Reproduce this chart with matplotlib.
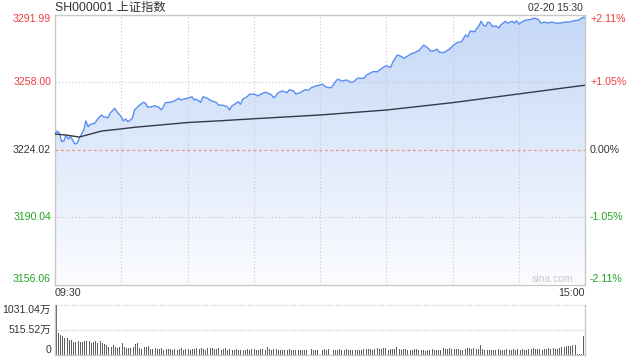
import numpy as np
import matplotlib
matplotlib.use('Agg')
import matplotlib.pyplot as plt
from matplotlib.colors import LinearSegmentedColormap
from matplotlib.transforms import blended_transform_factory

plt.rcParams['font.family'] = ['Liberation Sans', 'Noto Sans CJK SC', 'DejaVu Sans']

# --- data ---
title = 'SH000001 上证指数'
stamp = '02-20 15:30'
prev_close = 3224.02
price_ticks = [3291.99, 3258.00, 3224.02, 3190.04, 3156.06]
pct_labels = ['+2.11%', '+1.05%', '0.00%', '-1.05%', '-2.11%']
time_labels = ['09:30', '15:00']
vol_ticks = [1031.04, 515.52, 0]
vol_labels = ['1031.04万', '515.52万', '0']

# minute index from 09:30 (lunch break removed), 240 = 15:00
price_min = [0, 1, 2, 3, 4, 5, 6, 7, 8, 9,
             10, 11, 13, 14, 15, 16, 18, 19, 21, 22,
             24, 25, 27, 28, 30, 31, 32, 33, 35, 36,
             38, 40, 41, 42, 44, 45, 47, 48, 49, 50,
             52, 54, 56, 57, 59, 60, 62, 63, 64, 66,
             67, 69, 71, 73, 74, 76, 78, 79, 80, 82,
             83, 84, 85, 87, 88, 90, 91, 92, 93, 95,
             96, 98, 99, 100, 101, 103, 105, 106, 108, 109,
             111, 113, 115, 116, 118, 119, 121, 123, 125, 126,
             127, 128, 130, 132, 134, 135, 137, 140, 141, 143,
             144, 146, 147, 149, 150, 152, 153, 155, 157, 158,
             160, 161, 163, 165, 167, 169, 170, 172, 173, 174,
             176, 178, 179, 181, 182, 184, 185, 186, 187, 188,
             190, 191, 192, 193, 194, 195, 196, 197, 198, 200,
             201, 202, 204, 205, 207, 208, 209, 210, 212, 213,
             215, 217, 219, 220, 222, 223, 225, 227, 229, 231,
             233, 235, 237, 239, 240]
price_val = [3231.8, 3233.3, 3232.2, 3228.0, 3228.3, 3231.3, 3229.3, 3230.5, 3228.8, 3226.8,
             3227.2, 3229.7, 3233.8, 3238.4, 3235.5, 3236.7, 3237.2, 3238.9, 3241.4, 3240.5,
             3240.0, 3242.3, 3244.8, 3243.1, 3240.5, 3238.4, 3239.4, 3238.0, 3239.7, 3243.9,
             3246.1, 3247.8, 3247.3, 3245.3, 3245.6, 3246.1, 3245.3, 3244.0, 3245.3, 3247.6,
             3247.8, 3248.4, 3249.8, 3249.0, 3249.5, 3249.8, 3250.6, 3249.0, 3249.3, 3247.8,
             3250.6, 3249.8, 3248.4, 3247.8, 3246.4, 3246.3, 3245.6, 3243.9, 3245.9, 3247.3,
             3248.1, 3246.8, 3249.3, 3250.6, 3251.8, 3252.0, 3251.5, 3251.0, 3251.8, 3252.8,
             3252.6, 3251.5, 3250.1, 3251.0, 3252.6, 3253.5, 3252.6, 3254.0, 3253.6, 3252.0,
             3252.6, 3254.0, 3254.0, 3255.1, 3256.0, 3256.2, 3256.9, 3255.3, 3255.1, 3256.5,
             3258.2, 3259.4, 3258.5, 3259.0, 3257.9, 3258.0, 3259.9, 3259.9, 3261.5, 3262.7,
             3263.2, 3263.2, 3264.1, 3265.7, 3266.2, 3265.4, 3268.2, 3271.6, 3270.8, 3269.9,
             3271.3, 3272.1, 3272.8, 3274.1, 3276.6, 3275.0, 3273.6, 3273.8, 3274.6, 3273.0,
             3272.8, 3274.1, 3275.0, 3277.0, 3277.8, 3278.3, 3280.0, 3281.7, 3280.8, 3283.7,
             3283.3, 3285.0, 3286.4, 3288.6, 3286.6, 3286.1, 3288.2, 3287.7, 3286.1, 3286.1,
             3285.2, 3286.9, 3288.6, 3287.7, 3288.6, 3287.7, 3288.9, 3287.2, 3288.6, 3289.1,
             3289.4, 3290.2, 3289.4, 3287.7, 3288.2, 3287.7, 3288.2, 3287.6, 3287.7, 3288.2,
             3288.2, 3288.9, 3289.1, 3290.5, 3290.5]

avg_min = [0, 5, 11, 21, 30, 36, 48, 60, 75, 90, 120, 150, 180, 210, 240]
avg_val = [3231.8, 3231.3, 3230.3, 3233.3, 3234.4, 3235.2, 3236.4, 3237.6, 3238.5,
           3239.5, 3241.4, 3243.9, 3247.6, 3252.0, 3256.4]

# volume per minute, in 万
volume = [1031, 447, 412, 399, 357, 344, 309, 309, 275, 275,
          289, 261, 275, 289, 289, 289, 241, 261, 289, 241,
          289, 241, 220, 206, 172, 172, 206, 172, 151, 172,
          241, 172, 151, 151, 137, 172, 220, 241, 137, 124,
          172, 172, 186, 124, 124, 137, 124, 117, 137, 103,
          124, 117, 124, 103, 124, 103, 117, 137, 103, 117,
          124, 103, 124, 117, 137, 124, 137, 124, 103, 137,
          137, 151, 124, 124, 137, 103, 117, 137, 103, 124,
          110, 103, 117, 103, 103, 110, 103, 117, 103, 124,
          117, 103, 110, 117, 124, 110, 172, 124, 110, 124,
          124, 96, 103, 110, 96, 103, 117, 96, 103, 96,
          103, 96, 110, 103, 96, 103, 117, 103, 96, 103,
          289, 110, 131, 103, 117, 124, 103, 96, 110, 117,
          110, 103, 124, 110, 103, 103, 110, 96, 103, 103,
          124, 131, 131, 124, 103, 131, 137, 124, 131, 151,
          137, 110, 124, 131, 124, 158, 124, 110, 131, 124,
          96, 103, 96, 117, 124, 103, 96, 110, 89, 103,
          103, 117, 110, 103, 103, 110, 137, 131, 124, 137,
          117, 131, 124, 131, 110, 110, 124, 137, 151, 124,
          137, 117, 131, 206, 124, 110, 103, 103, 110, 96,
          103, 124, 110, 103, 103, 117, 110, 110, 124, 103,
          117, 110, 124, 110, 103, 124, 131, 137, 124, 117,
          124, 110, 131, 124, 151, 124, 137, 124, 131, 151,
          165, 172, 186, 186, 193, 200, 206, 27, 20, 27,
          399]

RED = '#f03c3c'
GREEN = '#1ea51e'
DARK = '#333333'
GRID = '#c8c8c8'
pct_colors = [RED, RED, DARK, GREEN, GREEN]

fig = plt.figure(figsize=(6.4, 3.6), dpi=100)
ax = fig.add_axes([55 / 640, 1 - 284.5 / 360, 530 / 640, 270 / 360])
axv = fig.add_axes([55 / 640, 1 - 355 / 360, 530 / 640, 50 / 360])

ymin, ymax = price_ticks[-1], price_ticks[0]

# gradient area under the price line
poly = ax.fill_between(price_min, price_val, ymin, color='none', lw=0)
cmap = LinearSegmentedColormap.from_list('area', ['#fbfcff', '#c4d8f7'])
grad = np.linspace(0, 1, 256).reshape(-1, 1)
im = ax.imshow(grad, extent=[0, 240, ymin, ymax], origin='lower',
               aspect='auto', cmap=cmap, zorder=1)
im.set_clip_path(poly.get_paths()[0], transform=ax.transData)

ax.plot(price_min, price_val, color='#5b8ef2', lw=1.0, zorder=3)
ax.plot(avg_min, avg_val, color='#343a46', lw=1.0, zorder=3)

ax.set_xlim(0, 240)
ax.set_ylim(ymin, ymax)
ax.set_xticks([])
ax.set_yticks([])
for s in ax.spines.values():
    s.set_color(GRID)
    s.set_linewidth(1)

for m in range(30, 240, 30):
    ax.axvline(m, color=GRID, lw=0.8, ls=(0, (1, 2)), zorder=2)
for v in (price_ticks[1], price_ticks[3]):
    ax.axhline(v, color=GRID, lw=0.8, ls=(0, (1, 2)), zorder=2)
ax.axhline(prev_close, color='#e59a78', lw=0.9, ls=(0, (2.2, 2.2)), zorder=2)

# price labels on both sides
vas = ['top', 'center', 'center', 'center', 'bottom']
tr_left = blended_transform_factory(fig.transFigure, ax.transData)
for v, lab, c, va in zip(price_ticks, pct_labels, pct_colors, vas):
    ax.text(51 / 640, v, f'{v:.2f}', transform=tr_left, ha='right', va=va,
            fontsize=7.6, color=c)
    ax.text(590 / 640, v, lab, transform=tr_left, ha='left', va=va,
            fontsize=7.7, color=c)

fig.text(55 / 640, 1 - 7.5 / 360, title, ha='left', va='center',
         fontsize=8.8, color=DARK)
fig.text(583 / 640, 1 - 7.8 / 360, stamp, ha='right', va='center',
         fontsize=7.4, color=DARK)

tr_time = blended_transform_factory(ax.transData, fig.transFigure)
ax.text(0, 1 - 293 / 360, time_labels[0], transform=tr_time, ha='left',
        va='center', fontsize=7.7, color=DARK)
ax.text(240, 1 - 293 / 360, time_labels[1], transform=tr_time, ha='right',
        va='center', fontsize=7.7, color=DARK)

ax.text(0.977, 0.022, 'sina.com', transform=ax.transAxes, ha='right',
        va='center', fontsize=7.5, color='#c8c8c8', zorder=4)

# volume panel
axv.bar(np.arange(len(volume)), volume, width=0.45, color='#5f5f5f', lw=0)
axv.set_xlim(-0.5, 240.5)
axv.set_ylim(0, vol_ticks[0])
axv.set_xticks([])
axv.set_yticks([])
for name, s in axv.spines.items():
    s.set_color(GRID)
    s.set_linewidth(1)
axv.spines['top'].set_visible(False)
for v in vol_ticks[:2]:
    axv.axhline(v, color=GRID, lw=0.9, ls=(0, (1, 1.2)), zorder=0, clip_on=False)

tr_vol = blended_transform_factory(fig.transFigure, axv.transData)
for v, lab, va in zip(vol_ticks, vol_labels, ['top', 'center', 'bottom']):
    axv.text(51 / 640, v, lab, transform=tr_vol, ha='right', va=va,
             fontsize=7.6, color=DARK)

fig.savefig('out.png', dpi=100)
